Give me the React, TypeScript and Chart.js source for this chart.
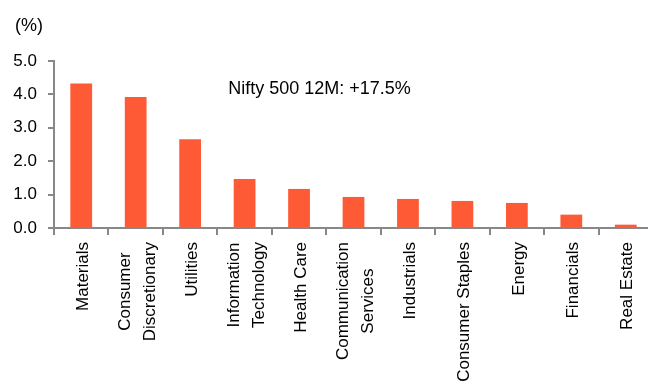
import React, { useEffect, useRef } from "react";
import { Chart, registerables } from "chart.js";

Chart.register(...registerables);

const categories: string[][] = [
  ["Materials"],
  ["Consumer", "Discretionary"],
  ["Utilities"],
  ["Information", "Technology"],
  ["Health Care"],
  ["Communication", "Services"],
  ["Industrials"],
  ["Consumer Staples"],
  ["Energy"],
  ["Financials"],
  ["Real Estate"],
];
const values: number[] = [4.33, 3.92, 2.66, 1.47, 1.17, 0.93, 0.87, 0.81, 0.75, 0.4, 0.1];
const yTicks: number[] = [0, 1, 2, 3, 4, 5];
const unitLabel = "(%)";
const noteText = "Nifty 500 12M: +17.5%";

const FONT = '"Liberation Sans", Arial, sans-serif';
const AXIS = "#888888";
const BAR = "#FF5A36";

export default function App() {
  const ref = useRef<HTMLCanvasElement | null>(null);

  useEffect(() => {
    const canvas = ref.current;
    if (!canvas) return;

    const labelPlugin = {
      id: "customText",
      afterDraw(chart: any) {
        const ctx = chart.ctx;
        const xs = chart.scales.x;
        const area = chart.chartArea;
        ctx.save();
        ctx.fillStyle = "#000";
        ctx.font = `17px ${FONT}`;
        ctx.textAlign = "center";
        ctx.textBaseline = "middle";
        const top = area.bottom + 14;
        const lh = 25;
        categories.forEach((lines, i) => {
          const cx = xs.getPixelForValue(i) + 2;
          const w = Math.max(...lines.map((l) => ctx.measureText(l).width));
          ctx.save();
          ctx.translate(cx, top);
          ctx.rotate(-Math.PI / 2);
          lines.forEach((l, k) => {
            ctx.fillText(l, -w / 2, (k - (lines.length - 1) / 2) * lh);
          });
          ctx.restore();
        });
        // unit label
        ctx.font = `18px ${FONT}`;
        ctx.fillText(unitLabel, area.left - 25, area.top - 35);
        // note
        ctx.font = `18px ${FONT}`;
        ctx.fillText(noteText, area.left + 265.5, area.top + 28);
        ctx.restore();
      },
    };

    const chart = new Chart(canvas, {
      type: "bar",
      data: {
        labels: categories.map((c) => c.join(" ")),
        datasets: [
          {
            data: values,
            backgroundColor: BAR,
            borderWidth: 0,
            barPercentage: 0.4,
            categoryPercentage: 1,
          },
        ],
      },
      options: {
        responsive: false,
        animation: false,
        devicePixelRatio: 1,
        layout: { padding: { top: 61, left: 0, right: 0, bottom: 0 } },
        plugins: {
          legend: { display: false },
          tooltip: { enabled: false },
          title: { display: false },
        },
        scales: {
          x: {
            offset: true,
            grid: {
              offset: true,
              drawOnChartArea: false,
              drawTicks: true,
              tickLength: 7,
              color: AXIS,
              lineWidth: 2,
            },
            border: { display: true, color: AXIS, width: 2 },
            ticks: { display: false },
            afterFit: (scale: any) => {
              scale.height = 382 - 228;
            },
          },
          y: {
            min: 0,
            max: 5,
            afterBuildTicks: (scale: any) => {
              scale.ticks = yTicks.map((v) => ({ value: v }));
            },
            grid: {
              drawOnChartArea: false,
              drawTicks: true,
              tickLength: 6,
              color: AXIS,
              lineWidth: 2,
            },
            border: { display: true, color: AXIS, width: 2 },
            ticks: {
              padding: 11,
              color: "#000",
              font: { family: FONT, size: 17 },
              callback: (v: any) => Number(v).toFixed(1),
            },
            afterFit: (scale: any) => {
              scale.width = 54;
            },
          },
        },
      },
      plugins: [labelPlugin],
    });

    return () => chart.destroy();
  }, []);

  return (
    <div
      style={{
        position: "fixed",
        left: 0,
        top: 0,
        width: 648,
        height: 382,
        overflow: "hidden",
        background: "#fff",
      }}
    >
      <canvas ref={ref} width={653} height={382} style={{ display: "block" }} />
    </div>
  );
}
